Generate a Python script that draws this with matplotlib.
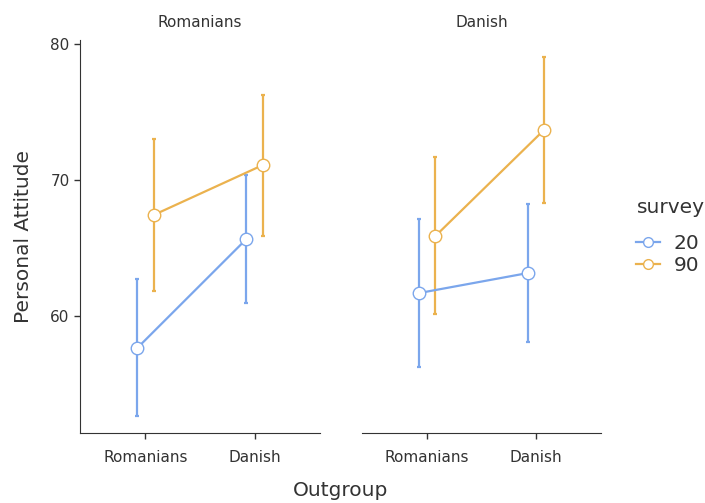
import matplotlib.pyplot as plt
from matplotlib.lines import Line2D

plt.rcParams["font.family"] = ["DejaVu Sans"]

facets = ["Romanians", "Danish"]
outgroups = ["Romanians", "Danish"]
surveys = ["20", "90"]
colors = {"20": "#7BA6EC", "90": "#EBB24E"}

# mean, lower, upper per facet -> survey -> outgroup
means = {
    "Romanians": {"20": [57.65, 65.66], "90": [67.43, 71.10]},
    "Danish": {"20": [61.69, 63.16], "90": [65.88, 73.68]},
}
lower = {
    "Romanians": {"20": [52.65, 60.96], "90": [61.84, 65.88]},
    "Danish": {"20": [56.25, 58.09], "90": [60.15, 68.31]},
}
upper = {
    "Romanians": {"20": [62.72, 70.37], "90": [73.00, 76.25]},
    "Danish": {"20": [67.13, 68.24], "90": [71.69, 79.04]},
}

dodge = {"20": -0.075, "90": 0.075}
txt = "#333333"

fig = plt.figure(figsize=(7.05, 5.03), dpi=100)
axes = [fig.add_axes([0.1135, 0.1392, 0.3404, 0.7813]),
        fig.add_axes([0.5135, 0.1392, 0.3390, 0.7813])]

for ax, facet in zip(axes, facets):
    for s in surveys:
        xs = [i + 1 + dodge[s] for i in range(len(outgroups))]
        m = means[facet][s]
        lo = [a - b for a, b in zip(m, lower[facet][s])]
        hi = [b - a for a, b in zip(m, upper[facet][s])]
        ax.errorbar(xs, m, yerr=[lo, hi], fmt="none", ecolor=colors[s],
                    elinewidth=1.6, capsize=1.6, capthick=1.6, zorder=2)
        ax.plot(xs, m, color=colors[s], lw=1.6, marker="o", markersize=9,
                markerfacecolor="white", markeredgecolor=colors[s],
                markeredgewidth=1.0, zorder=3)
    ax.set_xlim(0.4, 2.6)
    ax.set_ylim(51.4, 80.3)
    ax.set_xticks([1, 2])
    ax.set_xticklabels(outgroups)
    ax.set_title(facet, fontsize=11, color=txt, pad=9)
    for sp in ["top", "right"]:
        ax.spines[sp].set_visible(False)
    ax.spines["bottom"].set_color(txt)
    ax.spines["left"].set_color(txt)
    ax.tick_params(colors=txt, labelcolor=txt, labelsize=11, length=4, width=1)
    ax.tick_params(axis="x", pad=8)

axes[0].set_yticks([60, 70, 80])
axes[0].set_ylabel("Personal Attitude", fontsize=14.5, color=txt, labelpad=12.5)
axes[1].spines["left"].set_visible(False)
axes[1].set_yticks([])

fig.text(0.483, 0.025, "Outgroup", fontsize=14.5, color=txt, ha="center", va="center")

# legend: title drawn separately so the gap to the keys can be set
fig.text(0.903, 0.588, "survey", fontsize=14.5, color=txt, ha="left", va="center")
handles = [Line2D([0], [0], color=colors[s], lw=1.6, marker="o", markersize=7,
                  markerfacecolor="white", markeredgecolor=colors[s])
           for s in surveys]
leg = fig.legend(handles, surveys, loc="upper left",
                 bbox_to_anchor=(0.876, 0.570), frameon=False, fontsize=14.5,
                 handlelength=1.2, handletextpad=0.7, labelspacing=0.12)
for t in leg.get_texts():
    t.set_color(txt)

fig.savefig("out.png", dpi=100)
